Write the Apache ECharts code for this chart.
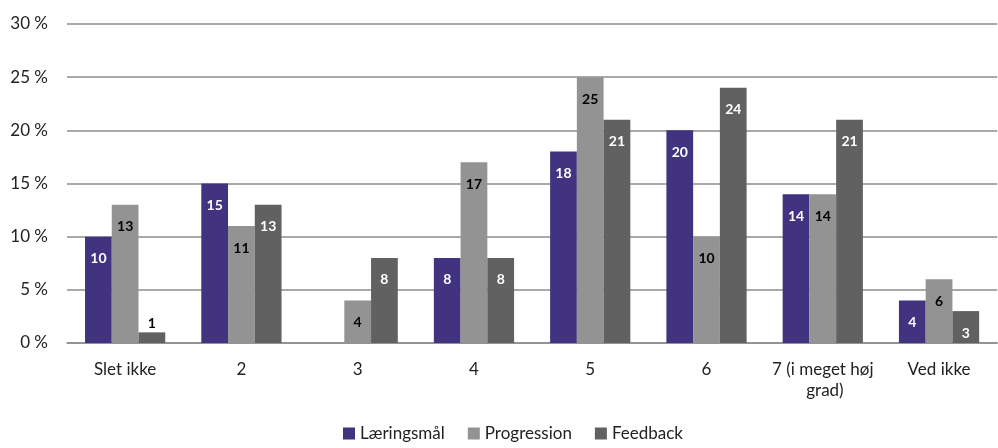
<!DOCTYPE html>
<html>
<head>
<meta charset="utf-8">
<script src="https://cdn.jsdelivr.net/npm/echarts@6/dist/echarts.min.js"></script>
<style>
  html, body { margin: 0; padding: 0; background: #fff; }
  #chart { width: 998px; height: 448px; }
</style>
</head>
<body>
<div id="chart"></div>
<script>
const categories = ['Slet ikke', '2', '3', '4', '5', '6', '7 (i meget høj grad)', 'Ved ikke'];
const laeringsmaal = [10, 15, 0, 8, 18, 20, 14, 4];
const progression = [13, 11, 4, 17, 25, 10, 14, 6];
const feedback = [1, 13, 8, 8, 21, 24, 21, 3];
const yTicks = [0, 5, 10, 15, 20, 25, 30];

const FONT = 'Lato';

// Values inside the bar top; tiny bars get their label above instead.
function toItems(values, insideColor) {
  return values.map(v => {
    if (v === 0) return { value: v, label: { show: false } };
    if (v < 3) {
      return { value: v, label: { position: 'top', distance: 2, color: '#000' } };
    }
    return { value: v, label: { position: 'insideTop', distance: 15, color: insideColor } };
  });
}

function barSeries(name, values, color, labelColor) {
  return {
    name: name,
    type: 'bar',
    data: toItems(values, labelColor),
    itemStyle: { color: color },
    barGap: '0%',
    barCategoryGap: '31%',
    label: {
      show: true,
      fontFamily: FONT,
      fontSize: 14,
      fontWeight: 'bold'
    },
    emphasis: { disabled: true }
  };
}

const chart = echarts.init(document.getElementById('chart'));
chart.setOption({
  animation: false,
  textStyle: { fontFamily: FONT },
  grid: { left: 67, right: 0, top: 24, bottom: 105 },
  legend: {
    top: 425,
    left: 343,
    padding: 0,
    itemWidth: 12,
    itemHeight: 12,
    itemGap: 23,
    icon: 'rect',
    textStyle: { fontFamily: FONT, fontSize: 17, color: '#222' },
    data: ['Læringsmål', 'Progression', 'Feedback']
  },
  xAxis: {
    type: 'category',
    data: categories,
    axisTick: { show: false },
    axisLine: { lineStyle: { color: '#8c8c8c', width: 1.5 } },
    axisLabel: {
      fontFamily: FONT,
      fontSize: 17,
      color: '#222',
      margin: 16,
      width: 112,
      overflow: 'break',
      interval: 0,
      lineHeight: 21
    }
  },
  yAxis: {
    type: 'value',
    min: yTicks[0],
    max: yTicks[yTicks.length - 1],
    interval: yTicks[1] - yTicks[0],
    axisLine: { show: false },
    axisTick: { show: false },
    splitLine: { lineStyle: { color: '#8c8c8c', width: 1.5 } },
    axisLabel: {
      fontFamily: FONT,
      fontSize: 17,
      color: '#222',
      margin: 19,
      formatter: v => v + ' %'
    }
  },
  series: [
    barSeries('Læringsmål', laeringsmaal, '#41337f', '#fff'),
    barSeries('Progression', progression, '#939393', '#000'),
    barSeries('Feedback', feedback, '#616161', '#fff')
  ]
});
</script>
</body>
</html>
